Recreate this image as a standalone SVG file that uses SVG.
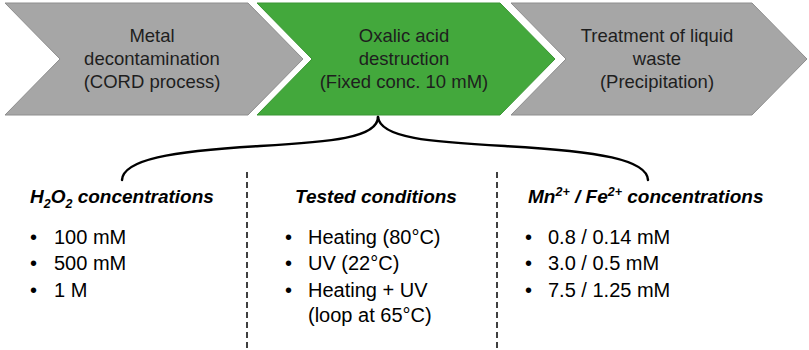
<svg xmlns="http://www.w3.org/2000/svg" width="809" height="350" viewBox="0 0 809 350">
  <style>
    .gray { fill: #a6a6a6; stroke: #8e8e8e; stroke-width: 1; }
    .green { fill: #43a83c; stroke: #3a9634; stroke-width: 1; }
    .ct { font-family: "Liberation Sans", Arial, sans-serif; font-size: 18.5px; fill: #1e1e1e; text-anchor: middle; }
    .hd { font-family: "Liberation Sans", Arial, sans-serif; font-size: 19px; font-weight: bold; font-style: italic; fill: #000; }
    .bt { font-family: "Liberation Sans", Arial, sans-serif; font-size: 20px; fill: #000; }
    .brace { fill: none; stroke: #000; stroke-width: 2.5; stroke-linecap: round; }
    .dash { stroke: #000; stroke-width: 1.5; stroke-dasharray: 6 4; }
  </style>

  <g id="step1">
    <polygon class="gray" points="5,3 248,3 303,59 248,115 5,115 60,59"/>
    <text class="ct" x="152" y="42">Metal</text>
    <text class="ct" x="152" y="65">decontamination</text>
    <text class="ct" x="152" y="88">(CORD process)</text>
  </g>

  <g id="step2">
    <polygon class="green" points="257,3 500,3 555,59 500,115 257,115 312,59"/>
    <text class="ct" x="404" y="42">Oxalic acid</text>
    <text class="ct" x="404" y="65">destruction</text>
    <text class="ct" x="404" y="88">(Fixed conc. 10 mM)</text>
  </g>

  <g id="step3">
    <polygon class="gray" points="511,3 752,3 807,59 752,115 511,115 566,59"/>
    <text class="ct" x="657" y="42">Treatment of liquid</text>
    <text class="ct" x="657" y="65">waste</text>
    <text class="ct" x="657" y="88">(Precipitation)</text>
  </g>

  <g id="connectors">
    <path class="brace" d="M378,117 C378,138 330,142 260,146 C170,151 123,160 122,180"/>
    <path class="brace" d="M378,117 C380,138 430,142 505,146 C600,151 647,160 648,180"/>
    <line class="dash" x1="247" y1="172" x2="247" y2="348"/>
    <line class="dash" x1="497" y1="172" x2="497" y2="348"/>
  </g>

  <g id="col1">
    <text class="hd" x="30" y="203">H<tspan font-size="12.5" dy="5">2</tspan><tspan dy="-5">O</tspan><tspan font-size="12.5" dy="5">2</tspan><tspan dy="-5"> concentrations</tspan></text>
    <text class="bt" x="30" y="244">•</text><text class="bt" x="54" y="244">100 mM</text>
    <text class="bt" x="30" y="270">•</text><text class="bt" x="54" y="270">500 mM</text>
    <text class="bt" x="30" y="297">•</text><text class="bt" x="54" y="297">1 M</text>
  </g>

  <g id="col2">
    <text class="hd" x="376" y="203" text-anchor="middle">Tested conditions</text>
    <text class="bt" x="285" y="244">•</text><text class="bt" x="308" y="244">Heating (80°C)</text>
    <text class="bt" x="285" y="270">•</text><text class="bt" x="308" y="270">UV (22°C)</text>
    <text class="bt" x="285" y="297">•</text><text class="bt" x="308" y="297">Heating + UV</text>
    <text class="bt" x="308" y="322">(loop at 65°C)</text>
  </g>

  <g id="col3">
    <text class="hd" x="528" y="203">Mn<tspan font-size="12.5" dy="-7">2+</tspan><tspan dy="7"> / Fe</tspan><tspan font-size="12.5" dy="-7">2+</tspan><tspan dy="7"> concentrations</tspan></text>
    <text class="bt" x="525" y="244">•</text><text class="bt" x="548" y="244">0.8 / 0.14 mM</text>
    <text class="bt" x="525" y="270">•</text><text class="bt" x="548" y="270">3.0 / 0.5 mM</text>
    <text class="bt" x="525" y="297">•</text><text class="bt" x="548" y="297">7.5 / 1.25 mM</text>
  </g>
</svg>
